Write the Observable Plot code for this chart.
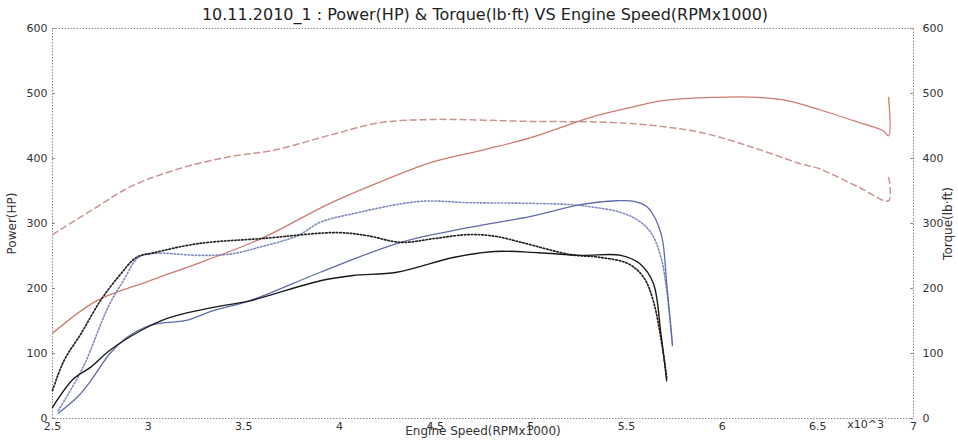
<!DOCTYPE html>
<html>
<head>
<meta charset="utf-8">
<script src="https://cdn.jsdelivr.net/npm/d3@7"></script>
<script src="https://cdn.jsdelivr.net/npm/@observablehq/plot@0.6"></script>
<style>
  html, body { margin: 0; padding: 0; background: #fff; }
  #title { height: 14px; padding-top: 8px; width: 958px; text-align: center; font-family: "DejaVu Sans", Verdana, sans-serif;
           font-size: 16px; line-height: 14px; color: #222; padding-left: 6px; box-sizing: content-box; white-space: nowrap; }
  #chart svg { display: block; }
</style>
</head>
<body>
<div id="title">10.11.2010_1 : Power(HP) &amp; Torque(lb·ft) VS Engine Speed(RPMx1000)</div>
<div id="chart"></div>
<script>
// ---- data (engine speed in RPMx1000, value) ----
const xTicks = [2.5, 3, 3.5, 4, 4.5, 5, 5.5, 6, 6.5, 7];
const yTicks = [0, 100, 200, 300, 400, 500, 600];
const xUnitNote = ["x10^3"];
const xAxisLabel = ["Engine Speed(RPMx1000)"];
const leftAxisLabel = ["Power(HP)"];
const rightAxisLabel = ["Torque(lb·ft)"];

const redSolid = [[2.5,131],[2.73,181],[3.0,211],[3.3,243],[3.6,278],[3.95,331],[4.23,366],[4.48,394],[4.75,413],[5.0,432],[5.31,463],[5.5,477],[5.69,489],[5.96,494],[6.19,494],[6.34,489],[6.51,475],[6.72,455],[6.84,443],[6.87,435],[6.87,494]];
const redDashed = [[2.5,283],[2.73,325],[2.91,357],[3.17,385],[3.43,403],[3.66,413],[3.95,436],[4.21,455],[4.48,460],[4.75,459],[5.0,457],[5.36,456],[5.63,451],[5.89,440],[6.15,418],[6.41,392],[6.51,384],[6.72,355],[6.87,335],[6.87,372]];
const blueSolid = [[2.53,8],[2.63,33],[2.7,58],[2.8,100],[2.89,125],[2.98,140],[3.05,146],[3.2,151],[3.34,166],[3.53,181],[3.9,225],[4.32,271],[4.68,294],[5.0,311],[5.26,329],[5.45,335],[5.54,334],[5.61,325],[5.68,285],[5.71,208],[5.74,112]];
const blueDotted = [[2.53,12],[2.66,79],[2.79,171],[2.87,212],[2.95,248],[3.03,254],[3.26,251],[3.43,253],[3.6,265],[3.78,281],[3.9,302],[4.07,315],[4.42,334],[4.68,332],[5.0,331],[5.21,329],[5.33,325],[5.47,317],[5.56,305],[5.63,285],[5.68,248],[5.71,197],[5.74,115]];
const blackSolid = [[2.5,17],[2.61,61],[2.7,79],[2.8,105],[2.96,135],[3.1,154],[3.34,171],[3.53,181],[3.9,212],[4.07,220],[4.3,225],[4.6,248],[4.81,257],[5.04,255],[5.26,251],[5.47,251],[5.57,238],[5.64,208],[5.68,130],[5.71,58]];
const blackDotted = [[2.5,43],[2.56,89],[2.65,131],[2.75,181],[2.85,220],[2.94,248],[3.03,255],[3.26,269],[3.6,277],[3.99,286],[4.15,281],[4.32,271],[4.5,277],[4.68,283],[4.82,280],[4.95,271],[5.21,252],[5.36,248],[5.51,238],[5.59,217],[5.64,181],[5.69,105],[5.71,63]];

const font = "DejaVu Sans, Verdana, sans-serif";
const lineOpts = (stroke, extra = {}) => ({x: d => d[0], y: d => d[1], stroke, curve: "catmull-rom", strokeWidth: 1.3, ...extra});

const chart = Plot.plot({
  width: 958,
  height: 418,
  marginTop: 6,
  marginBottom: 22,
  marginLeft: 52,
  marginRight: 45,
  x: {domain: [2.5, 7]},
  y: {domain: [0, 600]},
  style: {fontFamily: font, fontSize: "11px", color: "#333", background: "#fff", overflow: "visible"},
  marks: [
    Plot.frame({stroke: "#8a8a8a", strokeDasharray: "1.5,1.5", strokeWidth: 1}),
    Plot.axisX({ticks: xTicks, tickSize: 0, tickPadding: 4, tickFormat: d => String(d), label: null}),
    Plot.axisY({anchor: "left", ticks: yTicks, tickSize: 0, tickPadding: 5, label: null}),
    Plot.axisY({anchor: "right", ticks: yTicks, tickSize: 0, tickPadding: 9, label: null}),
    Plot.ruleY(yTicks, {y: d => d, x1: 2.5, x2: 2.515, stroke: "#888"}),
    Plot.ruleY(yTicks, {y: d => d, x1: 6.985, x2: 7, stroke: "#888"}),
    Plot.text(leftAxisLabel, {text: d => d, frameAnchor: "left", textAnchor: "middle", rotate: -90, dx: -40, fontSize: 12, fill: "#333"}),
    Plot.text(rightAxisLabel, {text: d => d, frameAnchor: "right", textAnchor: "middle", rotate: -90, dx: 35, fontSize: 12, fill: "#333"}),
    Plot.text(xUnitNote, {x: 6.75, text: d => d, frameAnchor: "bottom", dy: 9, fill: "#333"}),
    Plot.text(xAxisLabel, {text: d => d, frameAnchor: "bottom", dy: 16, fontSize: 12, fill: "#333"}),
    Plot.line(redDashed, lineOpts("#c8958f", {strokeDasharray: "6,4", strokeWidth: 1.5})),
    Plot.line(redSolid, lineOpts("#cc7a70")),
    Plot.line(blueDotted, lineOpts("#7f8bbb", {strokeDasharray: "1.5,2", strokeWidth: 1.6})),
    Plot.line(blueSolid, lineOpts("#5f6ca6")),
    Plot.line(blackDotted, lineOpts("#222", {strokeDasharray: "1.5,2", strokeWidth: 1.7})),
    Plot.line(blackSolid, lineOpts("#1a1a1a", {strokeWidth: 1.4}))
  ]
});
document.getElementById("chart").appendChild(chart);
</script>
</body>
</html>
